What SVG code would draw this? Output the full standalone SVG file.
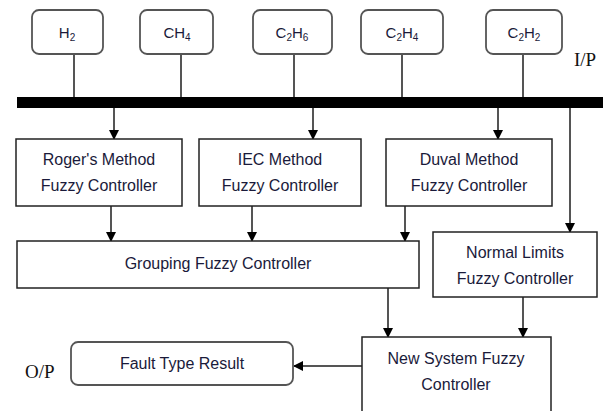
<svg xmlns="http://www.w3.org/2000/svg" width="603" height="411" viewBox="0 0 603 411">
<style>
  .gas rect { fill: #fff; stroke: #555; stroke-width: 1.8; }
  .box rect { fill: #fff; stroke: #222; stroke-width: 1.5; }
  text { font-family: "Liberation Sans", Arial, sans-serif; font-size: 16px; fill: #1a1a3a; text-anchor: middle; }
  .gas text { font-size: 15px; }
  .lbl { font-family: "Liberation Serif", "Times New Roman", serif; font-size: 19px; fill: #111; text-anchor: start; }
  .sub { font-size: 10px; }
  .conn line { stroke: #555; stroke-width: 2; }
  .conn .a { marker-end: url(#arr); }
</style>
<defs>
  <marker id="arr" markerWidth="10" markerHeight="10" refX="9" refY="5" orient="auto" markerUnits="userSpaceOnUse">
    <path d="M0,0 L10,5 L0,10 Z" fill="#000"/>
  </marker>
</defs>
<rect x="0" y="0" width="603" height="411" fill="#fff"/>

<g id="conn" class="conn">
  <line x1="74" y1="54" x2="74" y2="98"/>
  <line x1="181" y1="54" x2="181" y2="98"/>
  <line x1="294" y1="54" x2="294" y2="98"/>
  <line x1="402" y1="54" x2="402" y2="98"/>
  <line x1="523" y1="54" x2="523" y2="98"/>
  <line class="a" x1="114" y1="107" x2="114" y2="139"/>
  <line class="a" x1="313" y1="107" x2="313" y2="139"/>
  <line class="a" x1="498" y1="107" x2="498" y2="139"/>
  <line class="a" x1="570" y1="107" x2="570" y2="232"/>
  <line class="a" x1="111" y1="206" x2="111" y2="241"/>
  <line class="a" x1="252" y1="206" x2="252" y2="241"/>
  <line class="a" x1="405" y1="206" x2="405" y2="241"/>
  <line class="a" x1="388" y1="288" x2="388" y2="337"/>
  <line class="a" x1="523" y1="297" x2="523" y2="337"/>
  <line class="a" x1="362" y1="366" x2="294" y2="366"/>
</g>

<rect id="bus" x="17" y="97" width="586" height="11" fill="#000"/>

<g id="h2" class="gas"><rect x="32" y="10" width="71" height="44" rx="7"/><text x="67" y="38">H<tspan class="sub" dy="3">2</tspan></text></g>
<g id="ch4" class="gas"><rect x="140" y="10" width="73" height="44" rx="7"/><text x="177" y="38">CH<tspan class="sub" dy="3">4</tspan></text></g>
<g id="c2h6" class="gas"><rect x="253" y="10" width="79" height="44" rx="7"/><text x="292" y="38">C<tspan class="sub" dy="3">2</tspan><tspan dy="-3">H</tspan><tspan class="sub" dy="3">6</tspan></text></g>
<g id="c2h4" class="gas"><rect x="361" y="10" width="82" height="44" rx="7"/><text x="402" y="38">C<tspan class="sub" dy="3">2</tspan><tspan dy="-3">H</tspan><tspan class="sub" dy="3">4</tspan></text></g>
<g id="c2h2" class="gas"><rect x="486" y="10" width="76" height="44" rx="7"/><text x="524" y="38">C<tspan class="sub" dy="3">2</tspan><tspan dy="-3">H</tspan><tspan class="sub" dy="3">2</tspan></text></g>

<text class="lbl" x="574" y="66">I/P</text>
<text class="lbl" x="25" y="378">O/P</text>

<g id="rogers" class="box"><rect x="16" y="139" width="166" height="67"/><text x="99" y="165">Roger's Method</text><text x="99" y="191">Fuzzy Controller</text></g>
<g id="iec" class="box"><rect x="199" y="139" width="162" height="67"/><text x="280" y="165">IEC Method</text><text x="280" y="191">Fuzzy Controller</text></g>
<g id="duval" class="box"><rect x="386" y="139" width="166" height="67"/><text x="469" y="165">Duval Method</text><text x="469" y="191">Fuzzy Controller</text></g>
<g id="grouping" class="box"><rect x="17" y="241" width="402" height="47"/><text x="218" y="269">Grouping Fuzzy Controller</text></g>
<g id="normal" class="box"><rect x="433" y="232" width="164" height="65"/><text x="515" y="258">Normal Limits</text><text x="515" y="284">Fuzzy Controller</text></g>
<g id="newsys" class="box"><rect x="362" y="337" width="189" height="80"/><text x="456" y="364">New System Fuzzy</text><text x="456" y="390">Controller</text></g>
<g id="fault" class="gas"><rect x="71" y="342" width="222" height="43" rx="7"/><text x="182" y="369" style="font-size:16px">Fault Type Result</text></g>
</svg>
